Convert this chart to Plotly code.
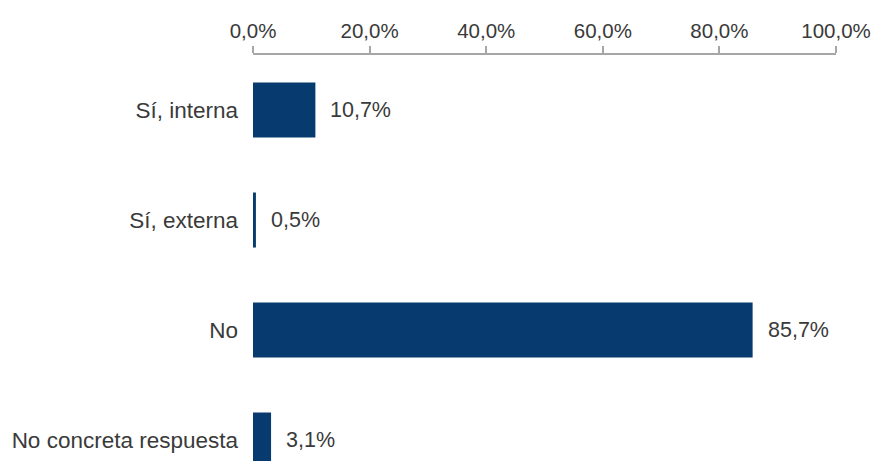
import plotly.graph_objects as go

categories = ["Sí, interna", "Sí, externa", "No", "No concreta respuesta"]
values = [10.7, 0.5, 85.7, 3.1]
tick_vals = [0, 20, 40, 60, 80, 100]
tick_labels = ["0,0%", "20,0%", "40,0%", "60,0%", "80,0%", "100,0%"]

BAR = "#073a6e"
TXT = "#3a3a3a"
FONT = "Liberation Sans, Arial, sans-serif"

fig = go.Figure()
fig.add_trace(go.Bar(
    x=values, y=categories, orientation="h",
    marker=dict(color=BAR, line=dict(width=0)),
    width=0.5, hoverinfo="skip",
))

for c, v in zip(categories, values):
    fig.add_annotation(
        x=v, y=c, xref="x", yref="y",
        text=f"{v:.1f}%".replace(".", ","),
        showarrow=False, xanchor="left", yanchor="middle",
        xshift=13, font=dict(family=FONT, size=21.5, color=TXT),
    )

fig.update_layout(
    width=872, height=461,
    margin=dict(l=253, r=36, t=55, b=0, pad=0),
    paper_bgcolor="white", plot_bgcolor="white",
    showlegend=False,
    font=dict(family=FONT, size=21, color=TXT),
    xaxis=dict(
        side="top", range=[0, 100],
        tickmode="array", tickvals=tick_vals, ticktext=tick_labels,
        showgrid=False, zeroline=False,
        showline=True, linecolor="#a6a6a6", linewidth=2,
        ticks="outside", ticklen=7, tickwidth=2, tickcolor="#a6a6a6",
        tickfont=dict(family=FONT, size=20.5, color=TXT),
        fixedrange=True,
    ),
    yaxis=dict(
        categoryorder="array", categoryarray=categories,
        range=[3.19, -0.5],
        showgrid=False, zeroline=False, showline=False, ticks="",
        ticklabelstandoff=14,
        tickfont=dict(family=FONT, size=22.5, color=TXT),
        fixedrange=True,
    ),
)

fig.write_html("out.html")
